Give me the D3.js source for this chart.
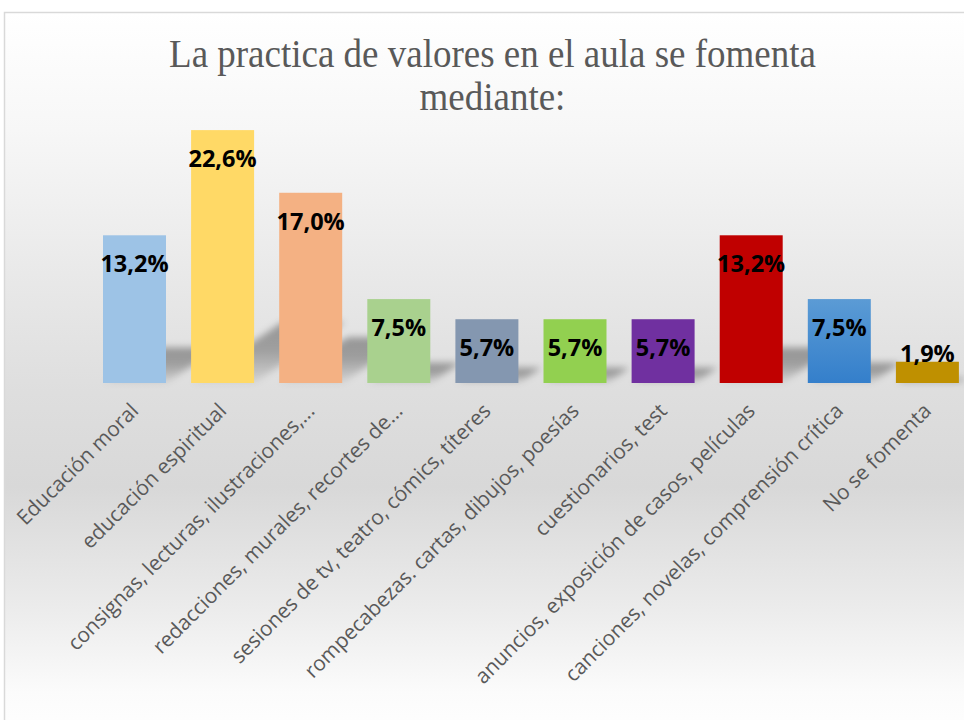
<!DOCTYPE html>
<html>
<head>
<meta charset="utf-8">
<script src="https://cdn.jsdelivr.net/npm/d3@7"></script>
<style>
  html, body { margin: 0; padding: 0; background: #ffffff; }
  svg { display: block; }
</style>
</head>
<body>
<script>
// ---- data ----
const titleLines = ["La practica de valores en el aula se fomenta", "mediante:"];
const categories = [
  "Educación moral",
  "educación espiritual",
  "consignas, lecturas, ilustraciones,...",
  "redacciones, murales, recortes de...",
  "sesiones de tv, teatro, cómics, títeres",
  "rompecabezas. cartas, dibujos, poesías",
  "cuestionarios, test",
  "anuncios, exposición de casos, películas",
  "canciones, novelas, comprensión crítica",
  "No se fomenta"
];
const values = [13.2, 22.6, 17.0, 7.5, 5.7, 5.7, 5.7, 13.2, 7.5, 1.9];
const valueLabels = ["13,2%", "22,6%", "17,0%", "7,5%", "5,7%", "5,7%", "5,7%", "13,2%", "7,5%", "1,9%"];
const barColors = ["#9dc3e6", "#ffd966", "#f4b183", "#a9d18e", "#8497b0", "#92d050", "#7030a0", "#c00000", "url(#blueGrad)", "#bf9000"];

// ---- layout ----
const W = 964, H = 720;
const svg = d3.select("body").append("svg").attr("width", W).attr("height", H);
const defs = svg.append("defs");

const bg = defs.append("linearGradient").attr("id", "bgGrad")
  .attr("x1", 0).attr("y1", 0).attr("x2", 0).attr("y2", 1);
[[0, "#ffffff"], [0.16, "#f7f7f7"], [0.40, "#e6e6e6"], [0.52, "#dedede"], [0.65, "#d8d8d8"],
 [0.82, "#ececec"], [0.93, "#fbfbfb"], [1, "#ffffff"]]
  .forEach(([o, c]) => bg.append("stop").attr("offset", o).attr("stop-color", c));

const bl = defs.append("linearGradient").attr("id", "blueGrad")
  .attr("x1", 0).attr("y1", 0).attr("x2", 0).attr("y2", 1);
bl.append("stop").attr("offset", 0).attr("stop-color", "#5b9bd5");
bl.append("stop").attr("offset", 1).attr("stop-color", "#347fcb");

const sg = defs.append("linearGradient").attr("id", "shadowGrad")
  .attr("x1", 0).attr("y1", 1).attr("x2", 0).attr("y2", 0);
sg.append("stop").attr("offset", 0).attr("stop-color", "#000").attr("stop-opacity", 0.05);
sg.append("stop").attr("offset", 0.55).attr("stop-color", "#000").attr("stop-opacity", 0.3);
sg.append("stop").attr("offset", 1).attr("stop-color", "#000").attr("stop-opacity", 0.34);

const blur = defs.append("filter").attr("id", "blur")
  .attr("x", "-50%").attr("y", "-50%").attr("width", "200%").attr("height", "200%");
blur.append("feGaussianBlur").attr("stdDeviation", 3.5);

// chart area
svg.append("rect")
  .attr("x", 4.5).attr("y", 12.5).attr("width", 980).attr("height", 730)
  .attr("fill", "url(#bgGrad)").attr("stroke", "#d9d9d9").attr("stroke-width", 1.5);

// title (slightly tall glyphs as in the reference)
svg.append("text")
  .attr("text-anchor", "middle")
  .attr("font-family", "'Liberation Serif', 'Times New Roman', serif")
  .attr("font-size", 37)
  .attr("fill", "#595959")
  .attr("transform", "translate(0,67) scale(1,1.06) translate(0,-67)")
  .selectAll("tspan").data(titleLines).join("tspan")
  .attr("x", 492.5)
  .attr("y", (d, i) => 67 + i * 40.6)
  .text(d => d);

// scales
const x = d3.scaleBand().domain(categories).range([90.45, 971.45])
  .paddingInner(0.285).paddingOuter(0.1425);
const y = d3.scaleLinear().domain([0, 25]).range([383, 103.25]);
const bw = x.bandwidth();
const base = y(0);

const data = categories.map((c, i) => ({ c, v: values[i], lab: valueLabels[i], col: barColors[i] }));

// shadows
svg.append("g").attr("filter", "url(#blur)")
  .selectAll("path").data(data).join("path")
  .attr("d", d => {
    const x0 = x(d.c), x1 = x0 + bw, h = base - y(d.v);
    const dy = 0.24 * h, dx = 1.5 * dy;
    return `M${x0},${base}L${x1},${base}L${x1 + dx},${base - dy}L${x0 + dx},${base - dy}Z`;
  })
  .attr("fill", "url(#shadowGrad)");

// bars
svg.append("g").selectAll("rect").data(data).join("rect")
  .attr("x", d => x(d.c))
  .attr("y", d => y(d.v))
  .attr("width", bw)
  .attr("height", d => base - y(d.v))
  .attr("fill", d => d.col);

// value labels
svg.append("g").selectAll("text").data(data).join("text")
  .attr("x", d => x(d.c) + bw / 2)
  .attr("y", d => Math.min(y(d.v) + 28.5, base - 29))
  .attr("dy", "0.36em")
  .attr("text-anchor", "middle")
  .attr("font-family", "'Open Sans', sans-serif")
  .attr("font-weight", 700)
  .attr("font-size", 23.5)
  .attr("fill", "#000")
  .text(d => d.lab);

// category axis labels
const xAxis = d3.axisBottom(x).tickSize(0).tickPadding(0);
const ax = svg.append("g").attr("transform", `translate(0,${base})`).call(xAxis);
ax.select(".domain").remove();
ax.selectAll("text")
  .attr("font-family", "'Open Sans', sans-serif")
  .attr("font-size", 20.8)
  .attr("fill", "#595959")
  .attr("text-anchor", "end")
  .attr("x", 0).attr("y", 0).attr("dy", "0.35em")
  .attr("transform", "translate(0,24) rotate(-45)");
</script>
</body>
</html>
